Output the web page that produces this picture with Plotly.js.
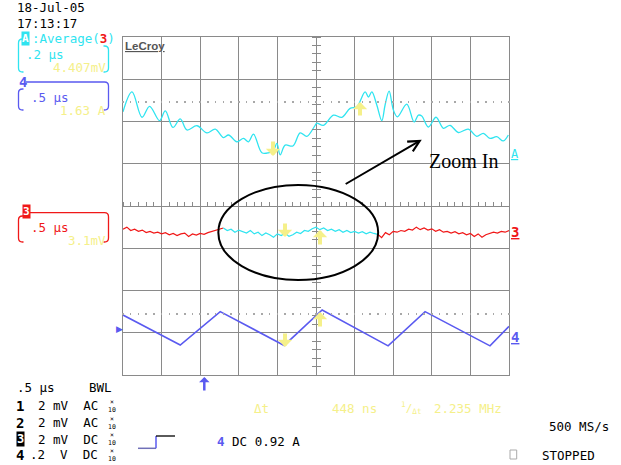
<!DOCTYPE html>
<html><head><meta charset="utf-8">
<script src="https://cdn.plot.ly/plotly-3.0.1.min.js"></script>
<style>html,body{margin:0;padding:0;background:#fff;}#chart{width:621px;height:465px;}</style>
</head><body><div id="chart"></div>
<script>
// ---- data (screen divisions: x 0..10, y -4..4) ----
const zoomA_x = [0,0.233,0.492,0.689,0.947,1.095,1.294,1.483,1.657,1.916,2.174,2.389,2.604,2.734,2.951,3.122,3.251,3.381,3.598,3.769,3.899,3.987,4.072,4.201,4.401,4.590,4.763,4.978,5.022,5.193,5.452,5.669,5.884,6.057,6.272,6.358,6.446,6.575,6.705,6.790,6.894,7.005,7.109,7.352,7.541,7.652,7.740,7.911,8.110,8.299,8.473,8.688,8.946,9.164,9.335,9.508,9.682,9.853,9.982];
const zoomA_y = [2.23,2.70,2.10,2.36,2.02,2.25,1.86,2.06,1.80,1.90,1.73,1.82,1.62,1.68,1.52,1.60,1.52,1.70,1.26,1.26,1.32,1.48,1.21,1.44,1.42,1.73,1.65,1.91,1.96,1.91,2.15,2.10,2.31,2.35,2.70,2.58,2.70,2.39,2.02,2.39,2.72,2.27,2.11,2.41,1.99,2.15,2.13,1.87,2.10,1.84,1.91,1.74,1.82,1.65,1.72,1.60,1.64,1.54,1.68];

const ch4_x = [0,1.483,2.519,4.176,5.159,6.868,7.826,9.508,10.0];
const ch4_y = [-2.58,-3.29,-2.50,-3.30,-2.46,-3.31,-2.50,-3.31,-2.85];

const ch3L_x = [0,0.1,0.2,0.3,0.4,0.5,0.6,0.7,0.8,0.9,1.0,1.1,1.2,1.3,1.4,1.5,1.6,1.7,1.8,1.9,2.0,2.1,2.2,2.3,2.4,2.5,2.6];
const ch3L_y = [-0.55,-0.50,-0.58,-0.55,-0.60,-0.57,-0.63,-0.60,-0.64,-0.62,-0.66,-0.63,-0.68,-0.65,-0.70,-0.66,-0.64,-0.72,-0.66,-0.69,-0.65,-0.67,-0.63,-0.60,-0.58,-0.55,-0.52];

const zoomMid_x = [2.6,2.7,2.8,2.9,3.0,3.1,3.2,3.3,3.4,3.5,3.6,3.7,3.8,3.9,4.0,4.1,4.2,4.3,4.4,4.5,4.6,4.7,4.8,4.9,5.0,5.1,5.2,5.3,5.4,5.5,5.6,5.7,5.8,5.9,6.0,6.1,6.2,6.3,6.4,6.5,6.6];
const zoomMid_y = [-0.52,-0.58,-0.55,-0.62,-0.57,-0.60,-0.64,-0.58,-0.66,-0.62,-0.70,-0.64,-0.68,-0.74,-0.66,-0.70,-0.64,-0.72,-0.68,-0.62,-0.65,-0.58,-0.60,-0.54,-0.50,-0.56,-0.52,-0.58,-0.55,-0.60,-0.56,-0.62,-0.58,-0.63,-0.60,-0.64,-0.61,-0.66,-0.62,-0.65,-0.67];

const ch3R_x = [6.6,6.7,6.8,6.9,7.0,7.1,7.2,7.3,7.4,7.5,7.6,7.7,7.8,7.9,8.0,8.1,8.2,8.3,8.4,8.5,8.6,8.7,8.8,8.9,9.0,9.1,9.2,9.3,9.4,9.5,9.6,9.7,9.8,9.9,10.0];
const ch3R_y = [-0.67,-0.75,-0.63,-0.68,-0.60,-0.62,-0.58,-0.60,-0.55,-0.57,-0.50,-0.56,-0.52,-0.57,-0.54,-0.60,-0.56,-0.62,-0.60,-0.64,-0.61,-0.66,-0.63,-0.68,-0.65,-0.72,-0.66,-0.74,-0.68,-0.65,-0.62,-0.64,-0.60,-0.62,-0.58];

// ---- styling ----
const CYAN = '#2fe4f0', RED = '#f01818', BLUE = '#5a5af0', YEL = '#f5f08a', GRID = '#8a8a8a';
const MONO = 'DejaVu Sans Mono';

const L = 123, T = 37, W = 386, H = 338;
const px = p => (p - L) / W;
const py = p => (T + H - p) / H;

function txt(text, x, y, o) {
  o = o || {};
  return Object.assign({
    text: text, xref: 'paper', yref: 'paper', x: px(x), y: py(y),
    xanchor: o.xanchor || 'left', yanchor: 'middle', showarrow: false, borderpad: 0,
    font: { family: o.family || MONO, size: o.size || 12.5, color: o.color || '#000' }
  }, o.extra || {});
}
function arrow(x, tipY, tailY, color, w, s) {
  return { xref: 'paper', yref: 'paper', x: px(x), y: py(tipY), ax: 0, ay: tailY - tipY,
    showarrow: true, arrowhead: 1, arrowsize: s || 0.6, arrowwidth: w || 4, arrowcolor: color, text: '' };
}
function seg(x0, y0, x1, y1, color, w) {
  return { type: 'line', xref: 'paper', yref: 'paper', x0: px(x0), y0: py(y0), x1: px(x1), y1: py(y1),
    line: { color: color, width: w || 1.3 } };
}
function pth(d, color) {
  return { type: 'path', xref: 'paper', yref: 'paper', path: d, line: { color: color, width: 1.3 } };
}
const P = (x, y) => px(x) + ',' + py(y);
function leftBr(x, yt, yb, r, s) {
  return 'M' + P(x + s, yt) + ' L' + P(x + r, yt) + ' Q' + P(x, yt) + ' ' + P(x, yt + r) +
    ' L' + P(x, yb - r) + ' Q' + P(x, yb) + ' ' + P(x + r, yb) + ' L' + P(x + s, yb);
}
function rightBr(x, yt, yb, r, s) {
  return 'M' + P(x - s, yt) + ' L' + P(x - r, yt) + ' Q' + P(x, yt) + ' ' + P(x, yt + r) +
    ' L' + P(x, yb - r) + ' Q' + P(x, yb) + ' ' + P(x - r, yb) + ' L' + P(x - s, yb);
}

const traces = [
  { x: zoomA_x, y: zoomA_y, mode: 'lines', line: { color: CYAN, width: 1.3, shape: 'spline', smoothing: 1 }, hoverinfo: 'skip' },
  { x: ch4_x, y: ch4_y, mode: 'lines', line: { color: BLUE, width: 1.6 }, hoverinfo: 'skip' },
  { x: ch3L_x, y: ch3L_y, mode: 'lines', line: { color: RED, width: 1.2 }, hoverinfo: 'skip' },
  { x: zoomMid_x, y: zoomMid_y, mode: 'lines', line: { color: CYAN, width: 1.2 }, hoverinfo: 'skip' },
  { x: ch3R_x, y: ch3R_y, mode: 'lines', line: { color: RED, width: 1.2 }, hoverinfo: 'skip' },
  { x: [], y: [], xaxis: 'x2', yaxis: 'y', hoverinfo: 'skip' },
  { x: [], y: [], xaxis: 'x', yaxis: 'y2', hoverinfo: 'skip' },
  { x: [], y: [], xaxis: 'x', yaxis: 'y3', hoverinfo: 'skip' },
  { x: [], y: [], xaxis: 'x4', yaxis: 'y', hoverinfo: 'skip' },
  { x: [], y: [], xaxis: 'x5', yaxis: 'y', hoverinfo: 'skip' }
];

const hidden = { showgrid: false, showline: false, showticklabels: false, zeroline: false, fixedrange: true };
const layout = {
  width: 621, height: 465, showlegend: false,
  paper_bgcolor: '#fff', plot_bgcolor: '#fff',
  margin: { l: L, r: 621 - L - W, t: T, b: 465 - T - H, pad: 0 },
  xaxis: { range: [0, 10], dtick: 1, tick0: 0, showgrid: true, gridcolor: GRID, gridwidth: 1, showline: true, mirror: true,
    linecolor: GRID, linewidth: 1, ticks: '', showticklabels: false, zeroline: false, fixedrange: true },
  yaxis: { range: [-4, 4], dtick: 1, tick0: 0, showgrid: true, gridcolor: GRID, gridwidth: 1, showline: true, mirror: true,
    linecolor: GRID, linewidth: 1, ticks: '', showticklabels: false, zeroline: false, fixedrange: true },
  xaxis2: Object.assign({ overlaying: 'x', anchor: 'free', position: 0.5, side: 'top', range: [0, 10], tick0: 0, dtick: 0.2,
    ticks: 'outside', ticklen: 4, tickwidth: 1, tickcolor: GRID }, hidden),
  yaxis2: Object.assign({ overlaying: 'y', anchor: 'free', position: 0.5, side: 'left', range: [-4, 4], tick0: 0, dtick: 0.2,
    ticks: 'outside', ticklen: 4, tickwidth: 1, tickcolor: GRID }, hidden),
  yaxis3: Object.assign({ overlaying: 'y', anchor: 'free', position: 0.5, side: 'right', range: [-4, 4], tick0: 0, dtick: 0.2,
    ticks: 'outside', ticklen: 4, tickwidth: 1, tickcolor: GRID }, hidden),
  xaxis4: Object.assign({ overlaying: 'x', anchor: 'free', position: 0.8125, side: 'bottom', range: [0, 10], tick0: 0, dtick: 0.2,
    ticks: 'outside', ticklen: 2, tickwidth: 1.5, tickcolor: '#a8a8a8' }, hidden),
  xaxis5: Object.assign({ overlaying: 'x', anchor: 'free', position: 0.1875, side: 'bottom', range: [0, 10], tick0: 0, dtick: 0.2,
    ticks: 'outside', ticklen: 2, tickwidth: 1.5, tickcolor: '#a8a8a8' }, hidden),
  shapes: [
    pth(leftBr(18.5, 39, 72, 4, 5), CYAN),
    pth(rightBr(108.5, 46, 72, 4, 5), CYAN),
    pth(leftBr(18.5, 89, 110, 4, 5), BLUE),
    pth('M' + P(26, 82) + ' L' + P(104.5, 82) + ' Q' + P(108.5, 82) + ' ' + P(108.5, 86) + ' L' + P(108.5, 106) + ' Q' + P(108.5, 110) + ' ' + P(104.5, 110) + ' L' + P(103.5, 110), BLUE),
    pth(leftBr(18.5, 216, 242, 4, 5), RED),
    pth('M' + P(28.5, 212.7) + ' L' + P(104.5, 212.7) + ' Q' + P(108.5, 212.7) + ' ' + P(108.5, 216.7) + ' L' + P(108.5, 238) + ' Q' + P(108.5, 242) + ' ' + P(104.5, 242) + ' L' + P(103.5, 242), RED),
    seg(138, 448.3, 156, 448.3, '#7070b8', 1.5),
    seg(156, 448.3, 156, 436, BLUE, 1.5),
    seg(156, 436, 175, 436, '#000', 1.3),
    { type: 'rect', xref: 'paper', yref: 'paper', x0: px(510), x1: px(516.7), y0: py(459), y1: py(450), line: { color: '#aaa', width: 1 } },
    { type: 'circle', xref: 'x', yref: 'y', x0: 2.47, x1: 6.61, y0: -1.75, y1: 0.50, line: { color: '#000', width: 2 } }
  ],
  annotations: [
    txt('18-Jul-05', 16, 8),
    txt('17:13:17', 16, 23),
    txt('<b>A</b>', 21, 38.5, { color: '#fff', size: 11, extra: { bgcolor: CYAN } }),
    txt(':Average(<span style="color:' + RED + '"><b>3</b></span>)', 31, 38, { color: CYAN }),
    txt('.2 µs', 25, 54.5, { color: CYAN }),
    txt('4.407mV', 107, 67.5, { color: YEL, xanchor: 'right' }),
    txt('<b>4</b>', 18, 82, { color: BLUE, size: 14 }),
    txt('.5 µs', 30, 97.5, { color: BLUE }),
    txt('1.63 A', 107, 110, { color: YEL, xanchor: 'right' }),
    txt('<b>3</b>', 21.5, 211.5, { color: '#fff', size: 11, extra: { bgcolor: RED } }),
    txt('.5 µs', 30, 227, { color: RED }),
    txt('3.1mV', 107, 240, { color: YEL, xanchor: 'right' }),
    txt('<b><u>LeCroy</u></b>', 124, 46.5, { family: 'Liberation Sans', size: 11.5, color: '#555' }),
    txt('Zoom In', 428, 161, { family: 'Liberation Serif', size: 20 }),
    txt('.5 µs', 16, 387),
    txt('BWL', 113, 387, { xanchor: 'right' }),
    txt('<b>1</b>', 15, 406, { size: 14 }),
    txt('<b>2</b>', 15, 422.7, { size: 14 }),
    txt('<b>3</b>', 16, 439.3, { size: 12, color: '#fff', extra: { bgcolor: '#000' } }),
    txt('<b>4</b>', 15, 455, { size: 14 }),
    txt('2 mV  AC', 37, 406),
    txt('2 mV  AC', 37, 422.7),
    txt('2 mV  DC', 37, 439.3),
    txt('.2  V  DC', 29, 455),
    txt('×<br>10', 107, 406, { size: 6.5 }),
    txt('×<br>10', 107, 422.7, { size: 6.5 }),
    txt('×<br>10', 107, 439.3, { size: 6.5 }),
    txt('×<br>10', 107, 455, { size: 6.5 }),
    txt('<span style="color:' + BLUE + '"><b>4</b></span> DC 0.92 A', 216, 441.7),
    txt('Δt', 253, 408, { color: YEL }),
    txt('448 ns', 331, 408, { color: YEL }),
    txt('<sup>1</sup>/<sub>Δt</sub>', 400, 408, { color: YEL, size: 11 }),
    txt('2.235 MHz', 432.7, 408, { color: YEL }),
    txt('500 MS/s', 548, 426),
    txt('STOPPED', 540.7, 455.5),
    txt('<u>A</u>', 510, 154, { color: CYAN, size: 12 }),
    txt('<b><u>3</u></b>', 510, 232, { color: RED, size: 14 }),
    txt('<b><u>4</u></b>', 510, 337, { color: BLUE, size: 14 }),
    txt('▶', 115, 329, { color: BLUE, size: 9, family: 'DejaVu Sans' }),
    arrow(273, 156, 140, YEL), arrow(360, 102, 117, YEL),
    arrow(285, 237, 222, YEL), arrow(320, 230, 246, YEL),
    arrow(285, 347, 332, YEL), arrow(320, 312, 328, YEL),
    arrow(204.3, 377, 392, BLUE, 2.5, 0.7),
    { xref: 'x', yref: 'y', axref: 'x', ayref: 'y', x: 7.74, y: 1.57, ax: 5.73, ay: 0.50, text: '',
      showarrow: true, arrowhead: 5, arrowsize: 1.1, arrowwidth: 2, arrowcolor: '#000' }
  ]
};

Plotly.newPlot('chart', traces, layout, { staticPlot: true, displayModeBar: false });
</script></body></html>
